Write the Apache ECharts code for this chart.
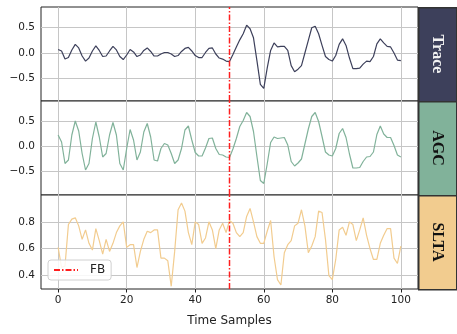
<!DOCTYPE html>
<html>
<head>
<meta charset="utf-8">
<script src="https://cdn.jsdelivr.net/npm/echarts@6/dist/echarts.min.js"></script>
<style>
  html, body { margin: 0; padding: 0; background: #fff; }
  .kk { width: 457px; height: 334px; }
</style>
</head>
<body>
<div class="kk"></div>
<script>
// sample index 0..100
var samples = [];
for (var s = 0; s <= 100; s++) samples.push(s);

var trace = [0.07, 0.04, -0.12, -0.09, 0.06, 0.17, 0.10, -0.06, -0.16, -0.10,
  0.04, 0.14, 0.05, -0.07, -0.06, 0.04, 0.13, 0.06, -0.07, -0.13,
  -0.04, 0.07, 0.02, -0.07, -0.04, 0.05, 0.10, 0.03, -0.06, -0.06,
  -0.02, 0.01, 0.01, -0.02, -0.07, -0.05, 0.03, 0.09, 0.11, 0.04,
  -0.05, -0.09, -0.09, 0.01, 0.09, 0.10, -0.02, -0.10, -0.12, -0.16,
  -0.17, -0.03, 0.12, 0.26, 0.38, 0.55, 0.48, 0.30, -0.15, -0.62,
  -0.70, -0.30, 0.05, 0.20, 0.12, 0.13, 0.13, 0.05, -0.25, -0.37,
  -0.32, -0.25, 0.00, 0.25, 0.50, 0.53, 0.38, 0.15, -0.07, -0.13,
  -0.16, -0.05, 0.17, 0.28, 0.15, -0.10, -0.31, -0.31, -0.30, -0.22,
  -0.16, -0.17, -0.07, 0.18, 0.28, 0.20, 0.13, 0.12, 0.00, -0.14,
  -0.15];

var agc = [0.23, 0.09, -0.34, -0.27, 0.23, 0.51, 0.31, -0.14, -0.47, -0.34,
  0.16, 0.49, 0.19, -0.21, -0.14, 0.23, 0.48, 0.23, -0.34, -0.47,
  -0.04, 0.34, 0.13, -0.27, -0.11, 0.29, 0.46, 0.19, -0.27, -0.29,
  -0.04, 0.06, 0.03, -0.14, -0.34, -0.27, -0.04, 0.33, 0.41, 0.13,
  -0.12, -0.19, -0.19, -0.03, 0.16, 0.17, -0.04, -0.16, -0.17, -0.21,
  -0.22, -0.05, 0.16, 0.40, 0.52, 0.68, 0.60, 0.30, -0.20, -0.68,
  -0.74, -0.35, 0.08, 0.19, 0.16, 0.17, 0.18, 0.03, -0.30, -0.39,
  -0.33, -0.25, 0.05, 0.35, 0.60, 0.68, 0.50, 0.20, -0.11, -0.17,
  -0.19, -0.04, 0.26, 0.36, 0.18, -0.15, -0.43, -0.43, -0.42, -0.30,
  -0.21, -0.20, -0.11, 0.24, 0.41, 0.25, 0.18, 0.18, 0.02, -0.17,
  -0.21];

var slta = [0.61, 0.46, 0.47, 0.78, 0.82, 0.83, 0.77, 0.67, 0.74, 0.64,
  0.59, 0.75, 0.66, 0.56, 0.67, 0.58, 0.64, 0.72, 0.77, 0.80,
  0.61, 0.63, 0.63, 0.46, 0.58, 0.67, 0.73, 0.72, 0.74, 0.74,
  0.53, 0.53, 0.51, 0.32, 0.58, 0.89, 0.94, 0.88, 0.72, 0.63,
  0.80, 0.78, 0.64, 0.68, 0.80, 0.74, 0.60, 0.74, 0.79, 0.72,
  0.81, 0.79, 0.72, 0.69, 0.72, 0.84, 0.90, 0.80, 0.69, 0.64,
  0.64, 0.73, 0.81, 0.54, 0.37, 0.33, 0.57, 0.63, 0.66, 0.77,
  0.79, 0.89, 0.77, 0.57, 0.62, 0.69, 0.88, 0.87, 0.67, 0.40,
  0.37, 0.52, 0.74, 0.76, 0.70, 0.80, 0.78, 0.66, 0.74, 0.83,
  0.70, 0.60, 0.52, 0.52, 0.64, 0.70, 0.75, 0.75, 0.53, 0.49,
  0.62];

var xTicks = [0, 20, 40, 60, 80, 100];
var ampTicks = [-0.5, 0, 0.5];
var sltaTicks = [0.4, 0.6, 0.8];
var fbSample = 50;
var panelNames = ['Trace', 'AGC', 'SLTA'];

(function(){
    var mychart = echarts.init(document.querySelector(".kk"))

    var colors = ['#3d405b', '#81b29a', '#f2cc8f'];
    var values = [trace, agc, slta];
    var yTicks = [ampTicks, ampTicks, sltaTicks];
    var yRange = [[-0.95, 0.91], [-0.97, 0.91], [0.30, 1.00]];
    var panelTop = [7, 101, 195];
    var panelH = 94;
    var fbRed = 'rgb(255, 30, 30)';
    var dashDot = [6, 2, 1.5, 2];
    var font = 'DejaVu Sans';

    var grids = [], xAxes = [], yAxes = [], series = [], graphics = [];

    function fmt(v) {
        var t = v.toFixed(1);
        return v < 0 ? '\u2212' + t.slice(1) : t;
    }

    for (var i = 0; i < 3; i++) {
        var last = (i === 2);
        grids.push({
            left: 41, right: 39, top: panelTop[i], height: panelH,
            show: true, borderColor: '#222', borderWidth: 1, backgroundColor: '#fff'
        });
        xAxes.push({
            type: 'value', gridIndex: i, min: -5, max: 105,
            axisLine: { show: false },
            splitLine: { show: false },
            axisTick: { show: last, customValues: xTicks, length: 3.5, lineStyle: { color: '#222' } },
            axisLabel: {
                show: last, customValues: xTicks, margin: 6,
                fontSize: 10.5, fontFamily: font, color: '#222'
            },
            name: last ? 'Time Samples' : '',
            nameLocation: 'middle', nameGap: 26,
            nameTextStyle: { fontSize: 12, fontFamily: font, color: '#222' }
        });
        yAxes.push({
            type: 'value', gridIndex: i, min: yRange[i][0], max: yRange[i][1],
            axisLine: { show: false },
            splitLine: { show: false },
            axisTick: { show: true, customValues: yTicks[i], length: 3.5, lineStyle: { color: '#222' } },
            axisLabel: {
                customValues: yTicks[i], margin: 6, formatter: fmt,
                fontSize: 10.5, fontFamily: font, color: '#222'
            }
        });

        var pts = [];
        for (var k = 0; k < samples.length; k++) pts.push([samples[k], values[i][k]]);

        var lines = xTicks.map(function (v) { return { xAxis: v }; })
            .concat(yTicks[i].map(function (v) { return { yAxis: v }; }));

        series.push({
            type: 'line', name: panelNames[i],
            xAxisIndex: i, yAxisIndex: i,
            data: pts, symbol: 'none', z: 3,
            lineStyle: { color: colors[i], width: 1.2 },
            itemStyle: { color: colors[i] },
            markLine: {
                silent: true, symbol: 'none', z: 1, animation: false,
                label: { show: false },
                lineStyle: { color: '#c6c6c6', width: 1, type: 'solid' },
                data: lines
            }
        });
        // red first-break line, spanning the panel's y range
        series.push({
            type: 'line', name: 'FB',
            xAxisIndex: i, yAxisIndex: i,
            data: [[fbSample, yRange[i][0]], [fbSample, yRange[i][1]]],
            symbol: 'none', z: 4, color: fbRed, silent: true,
            lineStyle: { color: fbRed, width: 1.5, type: dashDot, opacity: 1 },
            itemStyle: { color: fbRed }
        });

        // side label box
        graphics.push({
            type: 'rect', left: 418, top: panelTop[i],
            shape: { width: 38, height: panelH },
            style: { fill: colors[i], stroke: '#333', lineWidth: 1.5 }
        });
        graphics.push({
            type: 'text', x: 437, y: panelTop[i] + panelH / 2,
            rotation: -Math.PI / 2,
            style: {
                text: panelNames[i],
                fill: i === 0 ? '#f2f2f2' : '#111',
                font: 'bold 16px "Liberation Serif"',
                align: 'center', verticalAlign: 'middle'
            }
        });
    }

    var option = {
        animation: false,
        backgroundColor: '#fff',
        grid: grids,
        xAxis: xAxes,
        yAxis: yAxes,
        legend: {
            data: ['FB'],
            left: 48, top: 260,
            itemWidth: 24, itemHeight: 12,
            padding: [4, 6, 4, 5],
            itemStyle: { opacity: 0 },
            backgroundColor: 'rgba(255,255,255,0.85)',
            borderColor: '#d0d0d0', borderWidth: 1, borderRadius: 3,
            textStyle: { fontSize: 12, fontFamily: font, color: '#222', padding: [0, 0, 0, 7] }
        },
        graphic: graphics,
        series: series
    };
    mychart.setOption(option);
})();
</script>
</body>
</html>
